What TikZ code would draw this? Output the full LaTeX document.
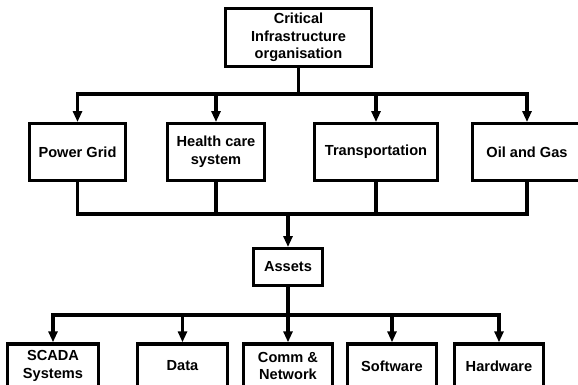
\documentclass[tikz,border=0pt]{standalone}
\usepackage{fontspec}
\setmainfont{Liberation Sans}
\usepackage{tikz}
\usetikzlibrary{arrows.meta,positioning,calc}

\begin{document}
\begin{tikzpicture}[x=1pt,y=-1pt,
	box/.style={draw,line width=3.4pt,align=center,inner sep=0pt,
		font=\fontsize{14.6}{17.7}\selectfont\bfseries},
	link/.style={line width=3.4pt},
	arr/.style={link,-{Triangle[length=11pt,width=9pt]}}]
	\useasboundingbox (0,0) rectangle (578,385);
	\clip (0,0) rectangle (578,385);
	\node[box,minimum width=145.5,minimum height=57.5] (cio) at (298.5,37.5) {Critical\\Infrastructure\\organisation};
	\node[box,minimum width=95.5,minimum height=56.5] (pg) at (77.5,152) {Power Grid};
	\node[box,minimum width=96.5,minimum height=56.5] (hc) at (216,152) {Health care\\system};
	\node[box,minimum width=122.5,minimum height=56.5] (tr) at (376,152) {Transportation};
	\node[box,minimum width=108.5,minimum height=56.5] (og) at (527,152) {Oil and Gas};
	\node[box,minimum width=68.5,minimum height=36.5] (as) at (288,267) {Assets};
	\node[box,minimum width=90.5,minimum height=44] (sc) at (53,366) {SCADA\\Systems};
	\node[box,minimum width=89.5,minimum height=44] (da) at (182.5,366) {Data};
	\node[box,minimum width=88.5,minimum height=44] (cn) at (288,366) {Comm \&\\Network};
	\node[box,minimum width=88.5,minimum height=44] (sw) at (392,366) {Software};
	\node[box,minimum width=88.5,minimum height=44] (hw) at (499,366) {Hardware};
	\coordinate (b1) at (298.5,94);
	\coordinate (b2) at (288,214);
	\coordinate (b3) at (288,315);
	% organisation to sectors
	\draw[link] (cio) -- (b1);
	\foreach \n in {pg,hc,tr,og}
		\draw[arr] (b1) -| (\n);
	% sectors to assets
	\foreach \n in {pg,hc,tr,og}
		\draw[link] (\n) |- (b2);
	\draw[arr] (b2) -- (as);
	% assets to asset types
	\draw[link] (as) -- (b3);
	\foreach \n in {sc,da,cn,sw,hw}
		\draw[arr] (b3) -| (\n);
\end{tikzpicture}
\end{document}
